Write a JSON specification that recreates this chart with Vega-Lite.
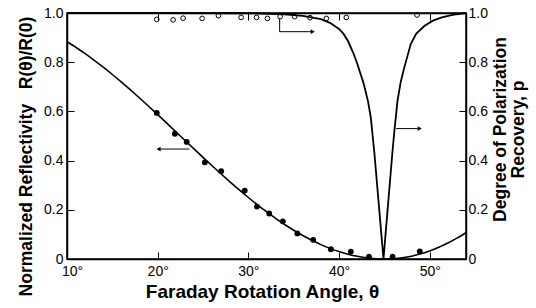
{
  "$schema": "https://vega.github.io/schema/vega-lite/v6.json",
  "width": 399,
  "height": 246,
  "autosize": "none",
  "padding": {"left": 67, "top": 13, "right": 70, "bottom": 49},
  "background": "white",
  "config": {
    "view": {"stroke": "black", "strokeWidth": 1.5},
    "font": "Liberation Sans",
    "axis": {
      "grid": false,
      "domainColor": "black",
      "domainWidth": 1.5,
      "tickColor": "black",
      "tickWidth": 1,
      "labelFont": "Liberation Sans",
      "labelFontSize": 14,
      "labelColor": "black",
      "titleFont": "Liberation Sans",
      "titleFontSize": 17.5,
      "titleFontWeight": "bold",
      "titleColor": "black"
    }
  },
  "datasets": {
    "refcurve": [
      {"theta": 10, "R": 0.883}, {"theta": 11, "R": 0.8597}, {"theta": 12, "R": 0.8346}, {"theta": 13, "R": 0.8078},
      {"theta": 14, "R": 0.7796}, {"theta": 15, "R": 0.75}, {"theta": 16, "R": 0.7192}, {"theta": 17, "R": 0.6873},
      {"theta": 18, "R": 0.6545}, {"theta": 19, "R": 0.621}, {"theta": 20, "R": 0.5868}, {"theta": 21, "R": 0.5523},
      {"theta": 22, "R": 0.5174}, {"theta": 23, "R": 0.4826}, {"theta": 24, "R": 0.4477}, {"theta": 25, "R": 0.4132},
      {"theta": 26, "R": 0.379}, {"theta": 27, "R": 0.3455}, {"theta": 28, "R": 0.3127}, {"theta": 29, "R": 0.2808},
      {"theta": 30, "R": 0.25}, {"theta": 31, "R": 0.2204}, {"theta": 32, "R": 0.1922}, {"theta": 33, "R": 0.1654},
      {"theta": 34, "R": 0.1403}, {"theta": 35, "R": 0.117}, {"theta": 36, "R": 0.0955}, {"theta": 37, "R": 0.076},
      {"theta": 38, "R": 0.0585}, {"theta": 39, "R": 0.0432}, {"theta": 40, "R": 0.0302}, {"theta": 41, "R": 0.0194},
      {"theta": 42, "R": 0.0109}, {"theta": 43, "R": 0.0049}, {"theta": 44, "R": 0.0012}, {"theta": 45, "R": 0},
      {"theta": 46, "R": 0.0012}, {"theta": 47, "R": 0.005}, {"theta": 48, "R": 0.0115}, {"theta": 49, "R": 0.021},
      {"theta": 50, "R": 0.033}, {"theta": 51, "R": 0.048}, {"theta": 52, "R": 0.065}, {"theta": 53, "R": 0.085},
      {"theta": 54, "R": 0.107}
    ],
    "refpoints": [
      {"theta": 19.9, "R": 0.594}, {"theta": 21.9, "R": 0.509}, {"theta": 23.2, "R": 0.476}, {"theta": 25.2, "R": 0.393},
      {"theta": 27.0, "R": 0.357}, {"theta": 29.6, "R": 0.278}, {"theta": 30.95, "R": 0.213}, {"theta": 32.3, "R": 0.185},
      {"theta": 33.8, "R": 0.153}, {"theta": 35.4, "R": 0.104}, {"theta": 37.15, "R": 0.078}, {"theta": 39.1, "R": 0.04},
      {"theta": 41.3, "R": 0.03}, {"theta": 43.3, "R": 0.009}, {"theta": 45.9, "R": 0.009}, {"theta": 48.9, "R": 0.031}
    ],
    "polcurve": [
      {"theta": 10, "p": 1.0}, {"theta": 20, "p": 1.0}, {"theta": 30, "p": 0.999}, {"theta": 34, "p": 0.995},
      {"theta": 36, "p": 0.988}, {"theta": 38, "p": 0.975}, {"theta": 39, "p": 0.96}, {"theta": 40, "p": 0.935},
      {"theta": 40.5, "p": 0.915}, {"theta": 41, "p": 0.885}, {"theta": 41.6, "p": 0.835}, {"theta": 42, "p": 0.795},
      {"theta": 42.7, "p": 0.715}, {"theta": 43.2, "p": 0.64}, {"theta": 43.5, "p": 0.576}, {"theta": 43.9, "p": 0.43},
      {"theta": 44.9, "p": 0.0}, {"theta": 45.9, "p": 0.44}, {"theta": 46.1, "p": 0.52}, {"theta": 46.45, "p": 0.644},
      {"theta": 46.8, "p": 0.72}, {"theta": 47.2, "p": 0.779}, {"theta": 47.9, "p": 0.873}, {"theta": 48.5, "p": 0.915},
      {"theta": 49.4, "p": 0.947}, {"theta": 50.3, "p": 0.968}, {"theta": 51.25, "p": 0.981}, {"theta": 52.5, "p": 0.992},
      {"theta": 54, "p": 1.0}
    ],
    "polpoints": [
      {"theta": 19.9, "p": 0.974}, {"theta": 21.7, "p": 0.972}, {"theta": 22.8, "p": 0.979}, {"theta": 24.9, "p": 0.978},
      {"theta": 26.7, "p": 0.989}, {"theta": 29.2, "p": 0.982}, {"theta": 30.9, "p": 0.982}, {"theta": 32.1, "p": 0.978},
      {"theta": 33.5, "p": 0.985}, {"theta": 35.1, "p": 0.985}, {"theta": 36.8, "p": 0.981}, {"theta": 38.6, "p": 0.978},
      {"theta": 40.8, "p": 0.982}, {"theta": 48.6, "p": 0.992}
    ],
    "leftarrow": [
      {"x1": 23.5, "x2": 20.3, "y1": 0.447, "y2": 0.447}
    ],
    "leftheads": [
      {"x": 20.1, "y": 0.447}
    ],
    "rightarrows": [
      {"x1": 33.45, "x2": 33.45, "y1": 0.978, "y2": 0.924},
      {"x1": 33.45, "x2": 36.9, "y1": 0.924, "y2": 0.924},
      {"x1": 46.3, "x2": 48.7, "y1": 0.53, "y2": 0.53}
    ],
    "rightheads": [
      {"x": 37.1, "y": 0.924},
      {"x": 48.9, "y": 0.53}
    ]
  },
  "layer": [
    {
      "encoding": {
        "x": {
          "type": "quantitative",
          "scale": {"domain": [10, 54], "nice": false, "zero": false},
          "axis": {
            "orient": "bottom",
            "values": [10, 20, 30, 40, 50],
            "tickSize": -7,
            "labelPadding": 12,
            "labelFlush": true,
            "labelFlushOffset": 5.5,
            "labelExpr": "datum.value + '°'",
            "title": "Faraday Rotation Angle, θ",
            "titleFontSize": 19,
            "titlePadding": 4,
            "titleX": 195
          }
        },
        "y": {
          "type": "quantitative",
          "scale": {"domain": [0, 1], "nice": false, "zero": false},
          "axis": {
            "orient": "left",
            "values": [0, 0.2, 0.4, 0.6, 0.8, 1.0],
            "tickSize": -7,
            "labelPadding": 11,
            "labelExpr": "datum.value == 0 ? '0' : format(datum.value, '.1f')",
            "title": "Normalized Reflectivity\u00a0\u00a0\u00a0R(θ)/R(0)",
            "titlePadding": 8,
            "titleY": 143
          }
        }
      },
      "layer": [
        {
          "data": {"name": "refcurve"},
          "mark": {"type": "line", "color": "black", "strokeWidth": 1.6, "interpolate": "monotone"},
          "encoding": {"x": {"field": "theta"}, "y": {"field": "R"}}
        },
        {
          "data": {"name": "refpoints"},
          "mark": {"type": "point", "shape": "circle", "filled": true, "color": "black", "size": 34, "opacity": 1},
          "encoding": {"x": {"field": "theta"}, "y": {"field": "R"}}
        },
        {
          "data": {"name": "leftarrow"},
          "mark": {"type": "rule", "color": "black", "strokeWidth": 1},
          "encoding": {"x": {"field": "x1"}, "x2": {"field": "x2"}, "y": {"field": "y1"}, "y2": {"field": "y2"}}
        },
        {
          "data": {"name": "leftheads"},
          "mark": {"type": "point", "shape": "triangle-left", "filled": true, "color": "black", "size": 22, "opacity": 1},
          "encoding": {"x": {"field": "x"}, "y": {"field": "y"}}
        }
      ]
    },
    {
      "encoding": {
        "x": {
          "type": "quantitative",
          "scale": {"domain": [10, 54], "nice": false, "zero": false},
          "axis": {
            "orient": "top",
            "values": [20, 30, 40, 50],
            "tickSize": -7,
            "labels": false,
            "title": null
          }
        },
        "y": {
          "type": "quantitative",
          "scale": {"domain": [0, 1], "nice": false, "zero": false},
          "axis": {
            "orient": "right",
            "values": [0, 0.2, 0.4, 0.6, 0.8, 1.0],
            "tickSize": -7,
            "labelPadding": 9,
            "labelExpr": "datum.value == 0 ? '0' : format(datum.value, '.1f')",
            "title": ["Degree of Polarization", "Recovery, p"],
            "titleAngle": 270,
            "titlePadding": 4,
            "titleLineHeight": 18,
            "titleY": 116
          }
        }
      },
      "layer": [
        {
          "data": {"name": "polcurve"},
          "mark": {"type": "line", "color": "black", "strokeWidth": 1.8},
          "encoding": {"x": {"field": "theta"}, "y": {"field": "p"}}
        },
        {
          "data": {"name": "polpoints"},
          "mark": {"type": "point", "shape": "circle", "filled": false, "color": "black", "size": 22, "strokeWidth": 1, "opacity": 1},
          "encoding": {"x": {"field": "theta"}, "y": {"field": "p"}}
        },
        {
          "data": {"name": "rightarrows"},
          "mark": {"type": "rule", "color": "black", "strokeWidth": 1},
          "encoding": {"x": {"field": "x1"}, "x2": {"field": "x2"}, "y": {"field": "y1"}, "y2": {"field": "y2"}}
        },
        {
          "data": {"name": "rightheads"},
          "mark": {"type": "point", "shape": "triangle-right", "filled": true, "color": "black", "size": 22, "opacity": 1},
          "encoding": {"x": {"field": "x"}, "y": {"field": "y"}}
        }
      ]
    }
  ],
  "resolve": {"scale": {"y": "independent"}, "axis": {"x": "independent"}}
}
